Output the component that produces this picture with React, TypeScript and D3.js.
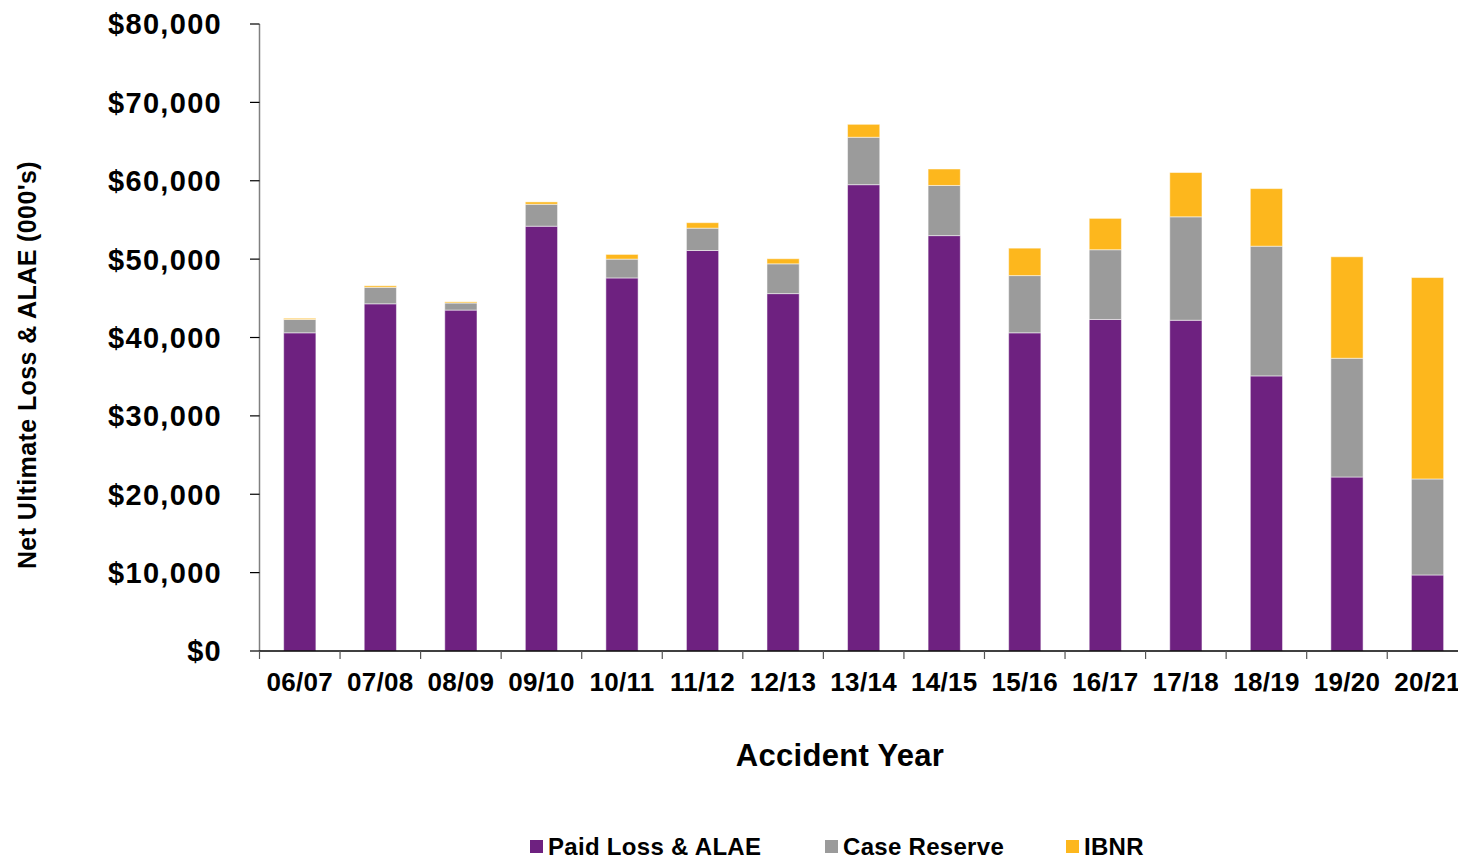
import React from "react";
import * as d3 from "d3";

const categories = ["06/07","07/08","08/09","09/10","10/11","11/12","12/13","13/14","14/15","15/16","16/17","17/18","18/19","19/20","20/21"];
const paidLoss = [40.6,44.3,43.5,54.2,47.6,51.1,45.6,59.5,53.0,40.6,42.3,42.2,35.1,22.2,9.7].map(v=>v*1000);
const caseReserve = [1.7,2.1,0.9,2.8,2.4,2.85,3.8,6.05,6.4,7.3,8.9,13.2,16.55,15.15,12.25].map(v=>v*1000);
const ibnr = [0.15,0.2,0.15,0.3,0.6,0.7,0.65,1.65,2.1,3.5,4.0,5.65,7.35,12.95,25.7].map(v=>v*1000);
const seriesNames = ["Paid Loss & ALAE","Case Reserve","IBNR"];
const seriesColors = ["#6E2180","#9B9B9B","#FDB71D"];
const yTicks = [0,10000,20000,30000,40000,50000,60000,70000,80000];

const W = 1458, H = 859;
const FONT = "'Liberation Sans', Arial, Helvetica, sans-serif";

export default function App() {
  const x = d3.scaleBand<string>().domain(categories).range([259.5, 1467.8]).paddingInner(0).paddingOuter(0);
  const y = d3.scaleLinear().domain([0, 80000]).range([651, 24]);
  const rows = categories.map((c, i) => ({ cat: c, s0: paidLoss[i], s1: caseReserve[i], s2: ibnr[i] }));
  const stacked = d3.stack<any>().keys(["s0","s1","s2"])(rows);
  const bw = x.bandwidth() * 0.4;
  const fmt = (v: number) => "$" + d3.format(",")(v);

  return (
    <svg width={W} height={H} style={{ position: "absolute", left: 0, top: 0, background: "#fff" }} fontFamily={FONT}>
      {/* bars */}
      {stacked.map((layer, si) => (
        <g key={si} fill={seriesColors[si]}>
          {layer.map((d, i) => {
            const cx = (x(categories[i]) as number) + x.bandwidth() / 2;
            const y0 = y(d[0]), y1 = y(d[1]);
            return <rect key={i} x={cx - bw / 2} y={y1} width={bw} height={Math.max(0, y0 - y1)} stroke="#ffffff" strokeOpacity={0.5} strokeWidth={1} />;
          })}
        </g>
      ))}
      {/* y axis */}
      <line x1={259.5} x2={259.5} y1={y(80000)} y2={y(0)} stroke="#808080" strokeWidth={1.5} />
      {yTicks.map(t => (
        <g key={t}>
          <line x1={250} x2={259.5} y1={y(t)} y2={y(t)} stroke="#000" strokeWidth={1.2} />
          <text x={222} y={y(t)} dy="0.36em" textAnchor="end" fontWeight="bold" fontSize={29} letterSpacing={1.3} fill="#000">{fmt(t)}</text>
        </g>
      ))}
      {/* x axis */}
      <line x1={259.5} x2={1467.8} y1={y(0)} y2={y(0)} stroke="#000" strokeWidth={1.5} />
      {categories.map((c, i) => (
        <line key={"t" + i} x1={(x(c) as number)} x2={(x(c) as number)} y1={y(0)} y2={y(0) + 8} stroke="#555" strokeWidth={1.2} />
      ))}
      <line x1={1467.8} x2={1467.8} y1={y(0)} y2={y(0) + 8} stroke="#555" strokeWidth={1.2} />
      {categories.map((c) => (
        <text key={"l" + c} x={(x(c) as number) + x.bandwidth() / 2} y={682} dy="0.36em" textAnchor="middle" fontWeight="bold" fontSize={26} letterSpacing={0.3} fill="#000">{c}</text>
      ))}
      {/* titles */}
      <text x={840} y={755} dy="0.36em" textAnchor="middle" fontWeight="bold" fontSize={31} letterSpacing={0.3} fill="#000">Accident Year</text>
      <text transform={`translate(27,365) rotate(-90)`} dy="0.36em" textAnchor="middle" fontWeight="bold" fontSize={25} letterSpacing={0.4} fill="#000">Net Ultimate Loss &amp; ALAE (000's)</text>
      {/* legend */}
      {seriesNames.map((n, i) => {
        const lx = [530, 825, 1066][i];
        return (
          <g key={n}>
            <rect x={lx} y={840} width={13} height={13} fill={seriesColors[i]} />
            <text x={lx + 18} y={846.5} dy="0.36em" fontWeight="bold" fontSize={24} letterSpacing={0.3} fill="#000">{n}</text>
          </g>
        );
      })}
    </svg>
  );
}
